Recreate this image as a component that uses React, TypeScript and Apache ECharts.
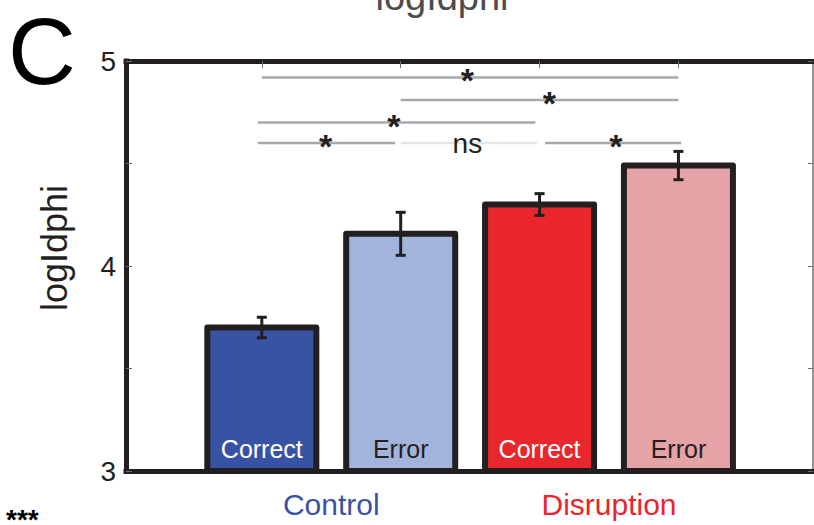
import React, { useEffect, useRef } from 'react';
import * as echarts from 'echarts';

// ---- data ----
const groupNames = ['Control', 'Disruption'];
const groupCenters = [1.5, 3.5];
const conditionLabels = ['Correct', 'Error', 'Correct', 'Error'];
const barPositions = [1, 2, 3, 4];
const meanValues = [3.7, 4.157, 4.3, 4.49];
const semValues = [0.05, 0.105, 0.053, 0.069];
const yTickValues = [3, 3.5, 4, 4.5, 5];

// significance brackets
const sigFrom = [1, 2, 0.97, 0.97, 2.0, 3.04];
const sigTo = [4, 4, 2.97, 1.96, 2.98, 4.02];
const sigLevel = [4.92, 4.81, 4.7, 4.6, 4.6, 4.6];
const sigMarkX = [2.48, 3.07, 1.95, 1.46, 2.48, 3.55];
const sigMarks = ['*', '*', '*', '*', 'ns', '*'];

const FONT = "'Liberation Sans', Arial, Helvetica, sans-serif";
const INK = '#231f20';
const barColors = ['#3953a4', '#a3b4dc', '#e8262b', '#e5a3a7'];
const labelColors = ['#ffffff', '#231f20', '#ffffff', '#231f20'];
const groupColors = ['#3953a4', '#e8262b'];

export default function App() {
  const ref = useRef<HTMLDivElement>(null);

  useEffect(() => {
    const chart = echarts.init(ref.current as HTMLDivElement, null, { renderer: 'svg' });
    const barData = barPositions.map((x, i) => [x, meanValues[i], semValues[i], i]);
    const sigData = sigFrom.map((f, i) => [f, sigTo[i], sigLevel[i], sigMarkX[i], i]);

    const xCommon = {
      type: 'value',
      min: 0.022,
      max: 4.969,
      splitLine: { show: false },
    };

    chart.setOption({
      animation: false,
      grid: { left: 126, right: 1, top: 61, bottom: 54 },
      xAxis: [
        {
          ...xCommon,
          position: 'bottom',
          axisLine: { show: true, onZero: false, lineStyle: { color: INK, width: 5, cap: 'square' } },
          axisTick: { show: false },
          axisLabel: {
            show: true,
            customValues: groupCenters,
            margin: 18,
            formatter: (v: number) => {
              const i = groupCenters.findIndex((c) => Math.abs(c - v) < 1e-6);
              return i < 0 ? '' : `{g${i}|${groupNames[i]}}`;
            },
            rich: {
              g0: { color: groupColors[0], fontSize: 30, fontFamily: FONT, lineHeight: 30 },
              g1: { color: groupColors[1], fontSize: 30, fontFamily: FONT, lineHeight: 30 },
            },
          },
        },
        {
          ...xCommon,
          position: 'top',
          axisLine: { show: true, onZero: false, lineStyle: { color: INK, width: 5, cap: 'square' } },
          axisTick: {
            show: true,
            inside: true,
            customValues: barPositions,
            length: 7,
            lineStyle: { color: '#6d6e71', width: 1 },
          },
          axisLabel: { show: false },
        },
      ],
      yAxis: [
        {
          type: 'value',
          min: 3,
          max: 5,
          interval: 0.5,
          position: 'left',
          axisLine: { show: true, onZero: false, lineStyle: { color: INK, width: 5, cap: 'square' } },
          axisTick: { show: true, inside: true, length: 6, lineStyle: { color: '#6d6e71', width: 1 } },
          axisLabel: {
            customValues: yTickValues,
            formatter: (v: number) => (Number.isInteger(v) ? String(v) : ''),
            fontSize: 28,
            color: INK,
            fontFamily: FONT,
            margin: 10,
          },
          splitLine: { show: false },
        },
        {
          type: 'value',
          min: 3,
          max: 5,
          interval: 0.5,
          position: 'right',
          axisLine: { show: true, onZero: false, lineStyle: { color: '#6d6e71', width: 1.5 } },
          axisTick: { show: true, inside: true, length: 5, lineStyle: { color: '#6d6e71', width: 1 } },
          axisLabel: { show: false },
          splitLine: { show: false },
        },
      ],
      series: [
        {
          type: 'custom',
          xAxisIndex: 0,
          yAxisIndex: 0,
          encode: { x: 0, y: 1 },
          data: barData,
          renderItem: (params: any, api: any) => {
            const x = api.value(0);
            const m = api.value(1);
            const e = api.value(2);
            const i = api.value(3);
            const top = api.coord([x, m]);
            const base = api.coord([x, 3]);
            const unit = api.size([1, 0])[0];
            const w = unit * 0.785;
            const cx = top[0];
            const hi = api.coord([x, m + e])[1];
            const lo = api.coord([x, m - e])[1];
            const lineStyle = { stroke: INK, lineWidth: 3 };
            return {
              type: 'group',
              children: [
                {
                  type: 'rect',
                  shape: { x: cx - w / 2, y: top[1], width: w, height: base[1] - top[1] },
                  style: { fill: barColors[i], stroke: INK, lineWidth: 6, lineJoin: 'round' },
                },
                { type: 'line', shape: { x1: cx, y1: hi, x2: cx, y2: lo }, style: lineStyle },
                { type: 'line', shape: { x1: cx - 5, y1: hi, x2: cx + 5, y2: hi }, style: lineStyle },
                { type: 'line', shape: { x1: cx - 5, y1: lo, x2: cx + 5, y2: lo }, style: lineStyle },
                {
                  type: 'text',
                  x: cx,
                  y: base[1] - 22,
                  style: {
                    text: conditionLabels[i],
                    fill: labelColors[i],
                    fontSize: 25,
                    fontFamily: FONT,
                    align: 'center',
                    textAlign: 'center',
                    verticalAlign: 'middle',
                    textVerticalAlign: 'middle',
                  },
                },
              ],
            };
          },
        },
        {
          type: 'custom',
          xAxisIndex: 0,
          yAxisIndex: 0,
          encode: { x: [0, 1, 3], y: 2 },
          data: sigData,
          renderItem: (params: any, api: any) => {
            const f = api.value(0);
            const t = api.value(1);
            const lv = api.value(2);
            const mx = api.value(3);
            const k = api.value(4);
            const p1 = api.coord([f, lv]);
            const p2 = api.coord([t, lv]);
            const pm = api.coord([mx, lv]);
            const isNs = sigMarks[k] === 'ns';
            return {
              type: 'group',
              children: [
                {
                  type: 'line',
                  shape: { x1: p1[0], y1: p1[1], x2: p2[0], y2: p2[1] },
                  style: { stroke: isNs ? '#e4e5e6' : '#a7a9ac', lineWidth: 2.5 },
                },
                {
                  type: 'text',
                  x: pm[0],
                  y: isNs ? pm[1] : pm[1] + 3,
                  style: {
                    text: sigMarks[k],
                    fill: INK,
                    fontSize: isNs ? 28 : 34,
                    fontWeight: isNs ? 'normal' : 'bold',
                    fontFamily: FONT,
                    align: 'center',
                    textAlign: 'center',
                    verticalAlign: 'middle',
                    textVerticalAlign: 'middle',
                  },
                },
              ],
            };
          },
        },
      ],
      graphic: [
        {
          type: 'text',
          x: 8,
          y: 51,
          style: {
            text: 'C',
            fill: '#000',
            fontSize: 94,
            fontFamily: FONT,
            verticalAlign: 'middle',
            textVerticalAlign: 'middle',
          },
        },
        {
          type: 'text',
          x: 442,
          y: -3,
          style: {
            text: 'logIdphi',
            fill: '#4d4d4d',
            fontSize: 38,
            fontFamily: FONT,
            align: 'center',
            textAlign: 'center',
            verticalAlign: 'middle',
            textVerticalAlign: 'middle',
          },
        },
        {
          type: 'text',
          x: 54,
          y: 248,
          rotation: Math.PI / 2,
          style: {
            text: 'logIdphi',
            fill: INK,
            fontSize: 36,
            fontFamily: FONT,
            align: 'center',
            textAlign: 'center',
            verticalAlign: 'middle',
            textVerticalAlign: 'middle',
          },
        },
        {
          type: 'text',
          x: 6,
          y: 519,
          style: {
            text: '***',
            fill: '#000',
            fontSize: 28,
            lineHeight: 10,
            fontWeight: 'bold',
            fontFamily: FONT,
            verticalAlign: 'middle',
            textVerticalAlign: 'middle',
          },
        },
      ],
    });

    return () => {
      chart.dispose();
    };
  }, []);

  return (
    <div
      ref={ref}
      style={{ position: 'absolute', left: 0, top: 0, width: 814, height: 525, background: '#fff' }}
    />
  );
}
